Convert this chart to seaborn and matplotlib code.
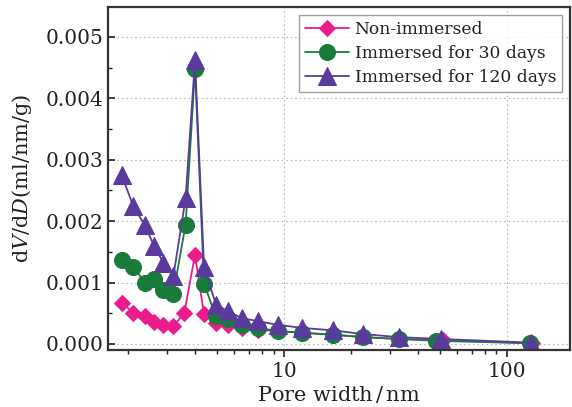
import numpy as np
import pandas as pd
import matplotlib
matplotlib.use("Agg")
import matplotlib.pyplot as plt
import seaborn as sns
from matplotlib.ticker import MultipleLocator, LogLocator, NullFormatter, FixedLocator, FixedFormatter

# ---- data ----
x_non = [1.87, 2.11, 2.37, 2.62, 2.88, 3.19, 3.57, 3.99, 4.38, 4.95, 5.61, 6.46, 7.67, 9.4, 12.1, 16.6, 22.7, 32.8, 52.0, 130.0]
y_non = [0.00067, 0.00051, 0.00045, 0.00035, 0.00031, 0.00029, 0.00050, 0.00145, 0.00048, 0.00034, 0.00031, 0.00026, 0.00023, 0.00021, 0.00018, 0.00015, 0.00011, 0.00008, 0.00006, 0.00001]

x_30 = [1.87, 2.11, 2.37, 2.62, 2.88, 3.19, 3.62, 3.99, 4.38, 4.95, 5.61, 6.46, 7.67, 9.4, 12.1, 16.6, 22.7, 32.8, 48.3, 127.0]
y_30 = [0.00137, 0.00126, 0.00100, 0.00105, 0.00088, 0.00082, 0.00194, 0.00448, 0.00098, 0.00045, 0.00040, 0.00031, 0.00026, 0.00021, 0.00018, 0.00015, 0.00011, 0.00008, 0.00005, 0.00001]

x_120 = [1.87, 2.11, 2.37, 2.62, 2.88, 3.19, 3.62, 3.99, 4.38, 4.95, 5.61, 6.46, 7.67, 9.4, 12.1, 16.6, 22.7, 32.8, 50.5, 129.0]
y_120 = [0.00275, 0.00224, 0.00194, 0.00159, 0.00132, 0.00110, 0.00237, 0.00462, 0.00126, 0.00064, 0.00053, 0.00042, 0.00037, 0.00031, 0.00026, 0.00022, 0.00016, 0.00011, 0.00008, 0.00002]

labels = ["Non-immersed", "Immersed for 30 days", "Immersed for 120 days"]
colors = ["#EC1C8C", "#197B3A", "#5B3A9E"]
markers = ["D", "o", "^"]
msizes = [8.5, 11.5, 12.5]

sns.set_theme(style="ticks")
plt.rcParams["font.family"] = ["DejaVu Serif"]
plt.rcParams["mathtext.fontset"] = "dejavuserif"

fig = plt.figure(figsize=(5.72, 4.07), dpi=100)
ax = fig.add_axes([0.189, 0.14, 0.807, 0.843])

series = [(x_non, y_non), (x_30, y_30), (x_120, y_120)]
for (xs, ys), lab, c, m, ms in zip(series, labels, colors, markers, msizes):
    df = pd.DataFrame({"x": xs, "y": ys})
    sns.lineplot(data=df, x="x", y="y", ax=ax, sort=False, color=c, marker=m,
                 markersize=ms, markeredgecolor=c, markerfacecolor=c, linewidth=1.3,
                 label=lab, estimator=None)

ax.set_xscale("log")
ax.set_xlim(1.625, 192)
ax.set_ylim(-0.0001, 0.00549)
ax.yaxis.set_major_locator(MultipleLocator(0.001))
ax.yaxis.set_minor_locator(MultipleLocator(0.0005))
ax.yaxis.set_major_formatter(matplotlib.ticker.FormatStrFormatter("%.3f"))
ax.xaxis.set_major_locator(FixedLocator([10, 100]))
ax.xaxis.set_major_formatter(FixedFormatter(["10", "100"]))
ax.xaxis.set_minor_locator(LogLocator(base=10, subs=np.arange(2, 10)))
ax.xaxis.set_minor_formatter(NullFormatter())

ax.grid(True, which="major", linestyle=(0, (1.5, 2.5)), color="#bbbbbb", linewidth=0.8)
ax.tick_params(axis="y", which="both", direction="in", labelsize=14.5, colors="#222222")
ax.tick_params(axis="y", which="major", length=5, width=1.2)
ax.tick_params(axis="y", which="minor", length=3, width=1.0)
ax.tick_params(axis="x", which="both", direction="out", labelsize=14.5, colors="#222222")
ax.tick_params(axis="x", which="major", length=5, width=1.2)
ax.tick_params(axis="x", which="minor", length=3, width=1.0)
for s in ax.spines.values():
    s.set_linewidth(1.6)
    s.set_color("#333333")

ax.set_xlabel("Pore width$\\,/\\,$nm", fontsize=15, color="#222222", labelpad=2)
ax.set_ylabel("d$\\it{V}$/d$\\it{D}$(ml/nm/g)", fontsize=15, color="#222222", labelpad=8)

leg = ax.legend(loc="upper right", fontsize=12.3, frameon=True, fancybox=False,
                edgecolor="#888888", borderpad=0.35, labelspacing=0.42,
                handlelength=2.6, handletextpad=0.3, borderaxespad=0.45)
leg.get_frame().set_linewidth(1.0)
for t in leg.get_texts():
    t.set_color("#222222")

fig.savefig("out.png", dpi=100)
